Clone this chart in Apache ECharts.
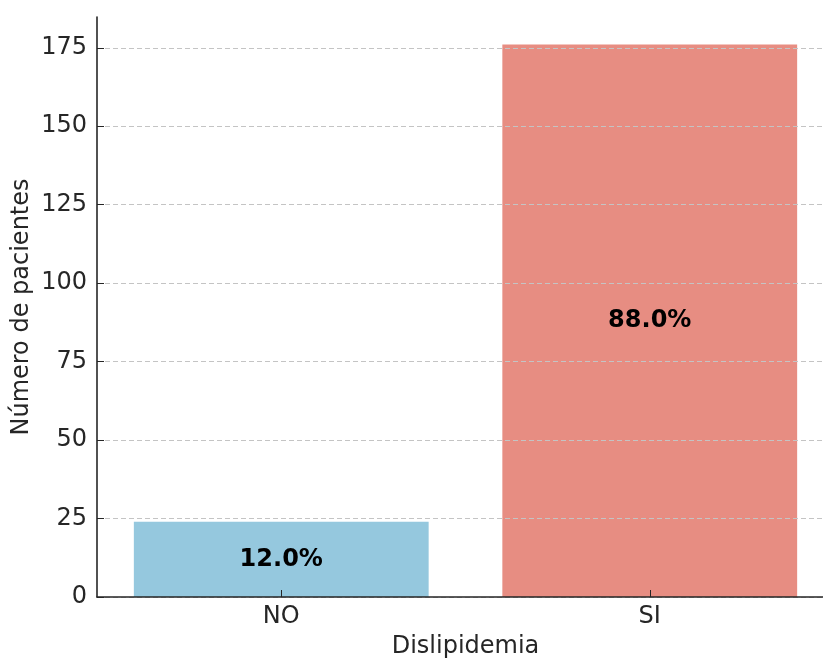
<!DOCTYPE html>
<html>
<head>
<meta charset="utf-8">
<script src="https://cdn.jsdelivr.net/npm/echarts@6/dist/echarts.min.js"></script>
<style>html,body{margin:0;padding:0;background:#fff;}#c{width:823px;height:659px;}</style>
</head>
<body>
<div id="c"></div>
<script>
const categories = ['NO', 'SI'];
const counts = [24, 176];
const percentLabels = ['12.0%', '88.0%'];
const barColors = ['#95c8de', '#e78d82'];
const yTicks = [0, 25, 50, 75, 100, 125, 150, 175];

const font = 'DejaVu Sans';
const chart = echarts.init(document.getElementById('c'));
chart.setOption({
  backgroundColor: '#ffffff',
  animation: false,
  grid: { left: 97, top: 17, width: 737, bottom: 62, containLabel: false, outerBoundsMode: 'none' },
  xAxis: {
    type: 'category',
    data: categories,
    z: 6,
    name: 'Dislipidemia',
    nameLocation: 'middle',
    nameGap: 38,
    nameMoveOverlap: false,
    nameTextStyle: { fontFamily: font, fontSize: 24, color: '#262626' },
    axisLine: { show: true, onZero: false, lineStyle: { color: '#262626', width: 1.6 } },
    axisTick: { show: true, inside: true, length: 7, alignWithLabel: true, lineStyle: { color: '#262626', width: 1 } },
    axisLabel: { fontFamily: font, fontSize: 24, color: '#262626', margin: 8 },
    splitLine: { show: false }
  },
  yAxis: {
    type: 'value',
    min: 0,
    max: 184.8,
    z: 5,
    name: 'Número de pacientes',
    nameLocation: 'middle',
    nameGap: 63,
    nameMoveOverlap: false,
    nameTextStyle: { fontFamily: font, fontSize: 24, color: '#262626' },
    axisLine: { show: true, onZero: false, lineStyle: { color: '#262626', width: 1.6 } },
    axisTick: { show: true, inside: true, length: 7, customValues: yTicks, lineStyle: { color: '#262626', width: 1 } },
    axisLabel: { fontFamily: font, fontSize: 24, color: '#262626', margin: 10, customValues: yTicks },
    splitLine: { show: true, lineStyle: { color: '#c4c4c4', width: 1, type: [5, 3] } }
  },
  series: [{
    type: 'bar',
    barWidth: '80%',
    data: counts.map((v, i) => ({ value: v, itemStyle: { color: barColors[i] } })),
    label: {
      show: true,
      position: 'inside',
      fontFamily: font,
      fontSize: 24,
      fontWeight: 'bold',
      color: '#000000',
      formatter: (p) => percentLabels[p.dataIndex]
    }
  }]
});
</script>
</body>
</html>
